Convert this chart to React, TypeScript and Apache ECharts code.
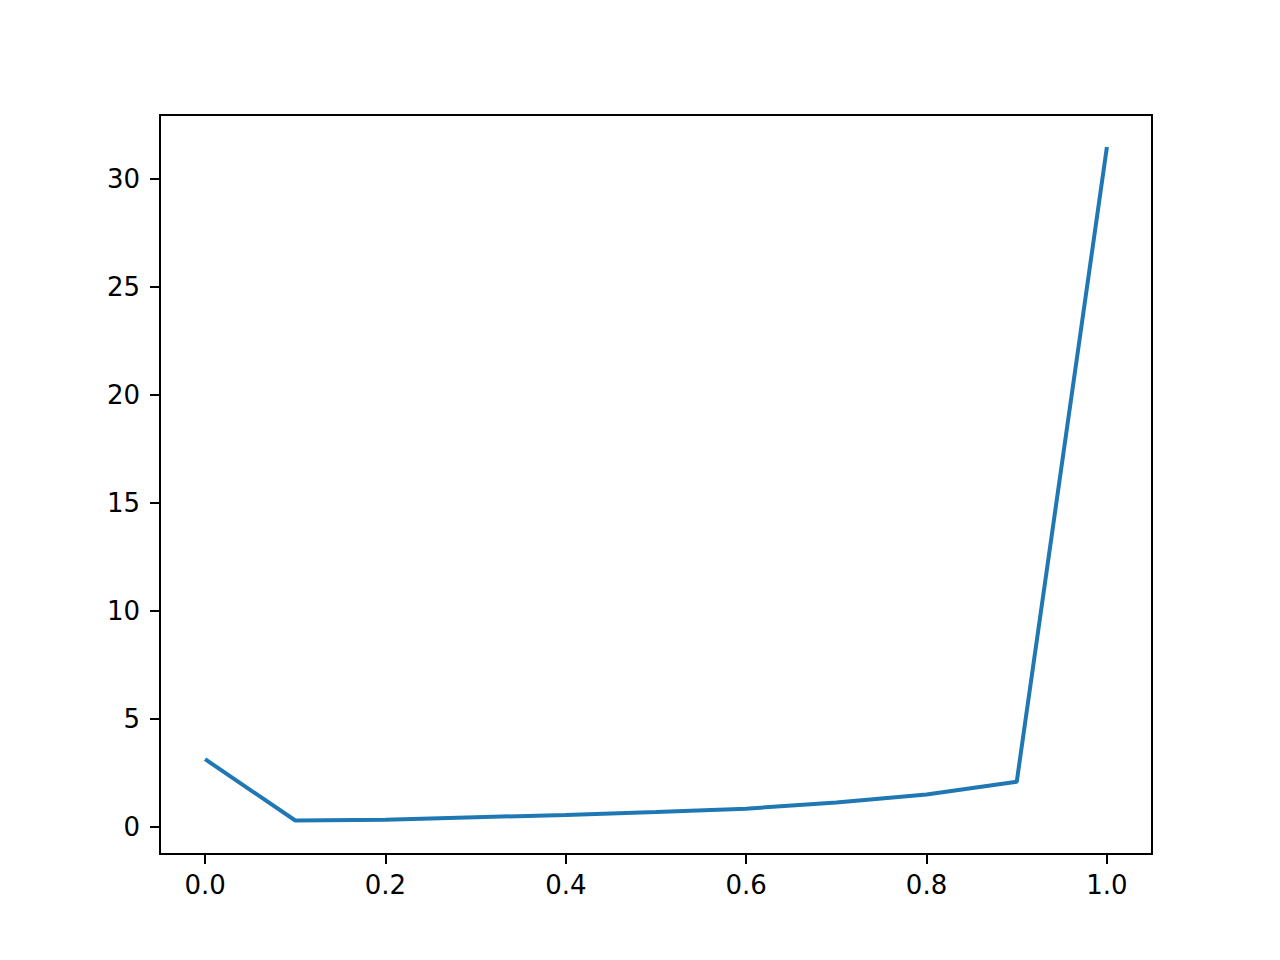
import * as echarts from "echarts";
import { useEffect, useRef } from "react";

/** x 取样点（0.0 … 1.0，步长 0.1）。 */
const xValues = [0, 0.1, 0.2, 0.3, 0.4, 0.5, 0.6, 0.7, 0.8, 0.9, 1.0];
/** y 值。 */
const yValues = [3.14, 0.3, 0.34, 0.45, 0.56, 0.7, 0.85, 1.13, 1.5, 2.09, 31.48];

/** 刻度标签位置。 */
const xTicks = [0, 0.2, 0.4, 0.6, 0.8, 1.0];
const yTicks = [0, 5, 10, 15, 20, 25, 30];

const LINE_COLOR = "#1f77b4";
const FONT = "DejaVu Sans";

function buildOption(): echarts.EChartsOption {
  const axisCommon = {
    axisLine: { show: true, onZero: false, lineStyle: { color: "#000", width: 2 } },
    splitLine: { show: false },
  };
  return {
    animation: false,
    grid: {
      left: 160,
      right: 128,
      top: 115,
      bottom: 106,
      show: true,
      borderColor: "#000",
      borderWidth: 2,
      backgroundColor: "transparent",
    },
    xAxis: {
      type: "value",
      min: -0.05,
      max: 1.05,
      ...axisCommon,
      axisTick: {
        show: true,
        length: 10,
        lineStyle: { color: "#000", width: 2 },
        customValues: xTicks,
      },
      axisLabel: {
        color: "#000",
        fontFamily: FONT,
        fontSize: 26,
        margin: 18,
        customValues: xTicks,
        formatter: (v: number) => v.toFixed(1),
      },
    },
    yAxis: {
      type: "value",
      min: -1.25,
      max: 32.96,
      ...axisCommon,
      axisTick: {
        show: true,
        length: 10,
        lineStyle: { color: "#000", width: 2 },
        customValues: yTicks,
      },
      axisLabel: {
        color: "#000",
        fontFamily: FONT,
        fontSize: 26,
        margin: 20,
        customValues: yTicks,
        formatter: (v: number) => String(v),
      },
    },
    series: [
      {
        type: "line",
        data: xValues.map((x, i) => [x, yValues[i]]),
        symbol: "none",
        lineStyle: { color: LINE_COLOR, width: 4 },
        itemStyle: { color: LINE_COLOR },
      },
    ],
  };
}

export default function App() {
  const chartRef = useRef<HTMLDivElement | null>(null);

  useEffect(() => {
    const el = chartRef.current;
    if (!el) {
      return undefined;
    }
    const chart = echarts.init(el, undefined, { renderer: "svg" });
    chart.setOption(buildOption());
    return () => {
      chart.dispose();
    };
  }, []);

  return (
    <div
      ref={chartRef}
      style={{ position: "absolute", left: 0, top: 0, width: 1280, height: 960, background: "#fff" }}
    />
  );
}
